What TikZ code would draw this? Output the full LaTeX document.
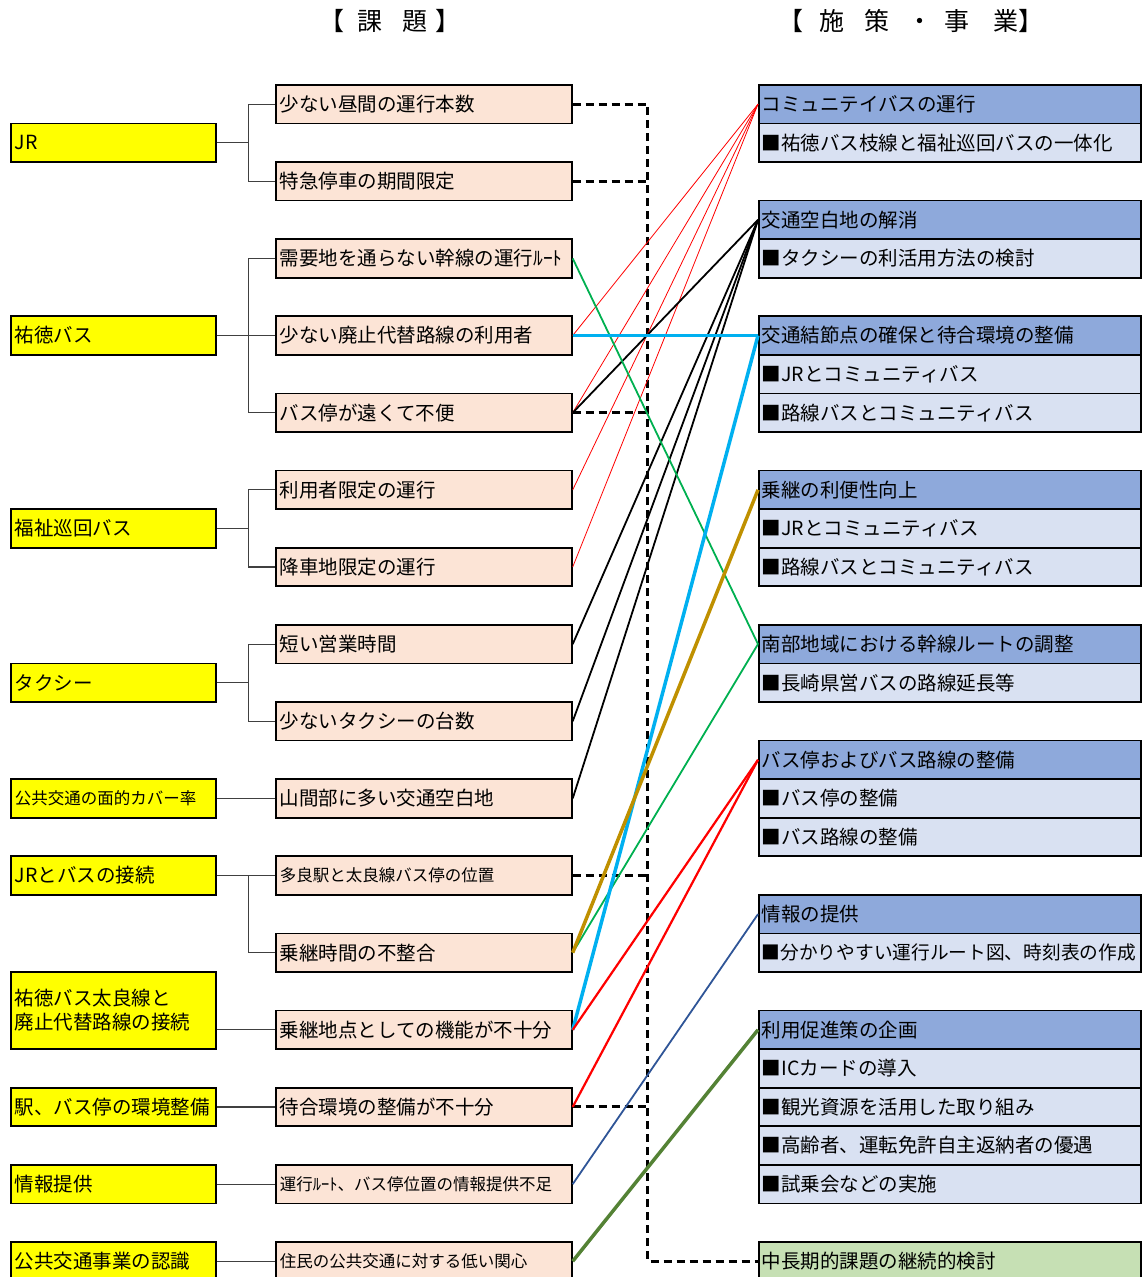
\documentclass[tikz,border=0pt]{standalone}
\usepackage{fontspec}
\newfontfamily\jp{Noto Sans CJK JP}
\definecolor{cyel}{RGB}{255,255,0}
\definecolor{cpeach}{RGB}{252,228,214}
\definecolor{chdr}{RGB}{142,169,219}
\definecolor{citem}{RGB}{217,225,242}
\definecolor{cgrn}{RGB}{198,224,180}
\definecolor{ccyan}{RGB}{0,176,240}
\definecolor{cgold}{RGB}{191,144,0}
\definecolor{cgreen}{RGB}{0,176,80}
\definecolor{cblue}{RGB}{47,85,151}
\definecolor{colive}{RGB}{84,130,53}
\begin{document}
\begin{tikzpicture}[x=1pt,y=-1pt,
  box/.style={draw=black,line width=1.7pt,inner xsep=4pt,inner ysep=0pt,minimum height=38.57pt,align=left,anchor=north west,font=\jp\fontsize{19.5}{24}\selectfont},
  ybox/.style={box,fill=cyel,text width=197pt},
  mbox/.style={box,fill=cpeach,text width=288pt},
  hbox/.style={box,fill=chdr,inner xsep=3pt,text width=376pt},
  ibox/.style={box,fill=citem,inner xsep=3pt,text width=376pt},
  gbox/.style={box,fill=cgrn,inner xsep=3pt,text width=376pt},
  small/.style={font=\jp\fontsize{16.5}{20}\selectfont},
  br/.style={draw=black!75,line width=1.2pt},
  dsh/.style={draw=black,line width=2.9pt,dash pattern=on 8pt off 5pt},
  lred/.style={draw=red,line width=0.8pt},
  lblack/.style={draw=black,line width=1.8pt},
  lcyan/.style={draw=ccyan,line width=3.5pt},
  lgold/.style={draw=cgold,line width=3.5pt},
  lgreen/.style={draw=cgreen,line width=1.8pt},
  lred2/.style={draw=red,line width=2.2pt},
  lblue/.style={draw=cblue,line width=1.8pt},
  lolive/.style={draw=colive,line width=3.5pt},
  ttl/.style={font=\jp\fontsize{25}{28}\selectfont,inner sep=0pt}
]
\useasboundingbox (0,0) rectangle (1144,1277);

% titles
\node[ttl] (t1) at (390,21) {【\hspace{13pt}課\hspace{20pt}題\hspace{8pt}】};
\node[ttl] (t2) at (911,21) {【\hspace{16pt}施\hspace{20pt}策\hspace{18pt}・\hspace{12pt}事\hspace{24pt}業】};

% left category boxes
\node[ybox] (y1) at (10,122.6) {JR};
\node[ybox] (y2) at (10,315.4) {祐徳バス};
\node[ybox] (y3) at (10,508.3) {福祉巡回バス};
\node[ybox] (y4) at (10,662.6) {タクシー};
\node[ybox,small] (y5) at (10,778.3) {公共交通の面的カバー率};
\node[ybox] (y6) at (10,855.4) {JRとバスの接続};
\node[ybox,minimum height=77.14pt] (y7) at (10,971.1) {祐徳バス太良線と\\廃止代替路線の接続};
\node[ybox] (y8) at (10,1086.8) {駅、バス停の環境整備};
\node[ybox] (y9) at (10,1164.0) {情報提供};
\node[ybox] (y10) at (10,1241.1) {公共交通事業の認識};

% issue boxes
\node[mbox] (m1) at (275,84) {少ない昼間の運行本数};
\node[mbox] (m2) at (275,161.1) {特急停車の期間限定};
\node[mbox] (m3) at (275,238.3) {需要地を通らない幹線の運行ﾙｰﾄ};
\node[mbox] (m4) at (275,315.4) {少ない廃止代替路線の利用者};
\node[mbox] (m5) at (275,392.6) {バス停が遠くて不便};
\node[mbox] (m6) at (275,469.7) {利用者限定の運行};
\node[mbox] (m7) at (275,546.8) {降車地限定の運行};
\node[mbox] (m8) at (275,624.0) {短い営業時間};
\node[mbox] (m9) at (275,701.1) {少ないタクシーの台数};
\node[mbox] (m10) at (275,778.3) {山間部に多い交通空白地};
\node[mbox,small] (m11) at (275,855.4) {多良駅と太良線バス停の位置};
\node[mbox] (m12) at (275,932.5) {乗継時間の不整合};
\node[mbox] (m13) at (275,1009.7) {乗継地点としての機能が不十分};
\node[mbox] (m14) at (275,1086.8) {待合環境の整備が不十分};
\node[mbox,small] (m15) at (275,1164.0) {運行ﾙｰﾄ、バス停位置の情報提供不足};
\node[mbox,small] (m16) at (275,1241.1) {住民の公共交通に対する低い関心};

% measure boxes
\node[hbox] (r1) at (758,84) {コミュニテイバスの運行};
\node[ibox] (r1a) at (758,122.6) {■祐徳バス枝線と福祉巡回バスの一体化};
\node[hbox] (r2) at (758,199.7) {交通空白地の解消};
\node[ibox] (r2a) at (758,238.3) {■タクシーの利活用方法の検討};
\node[hbox] (r3) at (758,315.4) {交通結節点の確保と待合環境の整備};
\node[ibox] (r3a) at (758,354.0) {■JRとコミュニティバス};
\node[ibox] (r3b) at (758,392.6) {■路線バスとコミュニティバス};
\node[hbox] (r4) at (758,469.7) {乗継の利便性向上};
\node[ibox] (r4a) at (758,508.3) {■JRとコミュニティバス};
\node[ibox] (r4b) at (758,546.8) {■路線バスとコミュニティバス};
\node[hbox] (r5) at (758,624.0) {南部地域における幹線ルートの調整};
\node[ibox] (r5a) at (758,662.6) {■長崎県営バスの路線延長等};
\node[hbox] (r6) at (758,739.7) {バス停およびバス路線の整備};
\node[ibox] (r6a) at (758,778.3) {■バス停の整備};
\node[ibox] (r6b) at (758,816.8) {■バス路線の整備};
\node[hbox] (r7) at (758,894.0) {情報の提供};
\node[ibox,font=\jp\fontsize{18.7}{22}\selectfont] (r7a) at (758,932.5) {■分かりやすい運行ルート図、時刻表の作成};
\node[hbox] (r8) at (758,1009.7) {利用促進策の企画};
\node[ibox] (r8a) at (758,1048.3) {■ICカードの導入};
\node[ibox] (r8b) at (758,1086.8) {■観光資源を活用した取り組み};
\node[ibox] (r8c) at (758,1125.4) {■高齢者、運転免許自主返納者の優遇};
\node[ibox] (r8d) at (758,1164.0) {■試乗会などの実施};
\node[gbox] (r9) at (758,1241.1) {中長期的課題の継続的検討};

% bracket connectors
\draw[br] (y1.east) -- ++(32,0) |- (m1.west);
\draw[br] (y1.east) -- ++(32,0) |- (m2.west);
\draw[br] (y2.east) -- (m4.west);
\draw[br] (y2.east) -- ++(32,0) |- (m3.west);
\draw[br] (y2.east) -- ++(32,0) |- (m5.west);
\draw[br] (y3.east) -- ++(32,0) |- (m6.west);
\draw[br] (y3.east) -- ++(32,0) |- (m7.west);
\draw[br] (y4.east) -- ++(32,0) |- (m8.west);
\draw[br] (y4.east) -- ++(32,0) |- (m9.west);
\draw[br] (y5.east) -- (m10.west);
\draw[br] (y6.east) -- (m11.west);
\draw[br] (y6.east) -- ++(32,0) |- (m12.west);
\draw[br] (y7.east |- m13.west) -- (m13.west);
\draw[br] (y8.east) -- (m14.west);
\draw[br] (y9.east) -- (m15.west);
\draw[br] (y10.east) -- (m16.west);

% dashed connectors
\coordinate (dv) at (647.5,0);
\draw[dsh] (m1.east) -- (m1.east -| dv) -- (dv |- r9.west) -- (r9.west);
\draw[dsh] (m2.east) -- (m2.east -| dv);
\draw[dsh] (m5.east) -- (m5.east -| dv);
\draw[dsh] (m11.east) -- (m11.east -| dv);
\draw[dsh] (m14.east) -- (m14.east -| dv);

% colored connectors
\draw[lred] (m4.east) -- (r1.west);
\draw[lred] (m5.east) -- (r1.west);
\draw[lred] (m6.east) -- (r1.west);
\draw[lred] (m7.east) -- (r1.west);
\draw[lblack] (m5.east) -- (r2.west);
\draw[lblack] (m8.east) -- (r2.west);
\draw[lblack] (m9.east) -- (r2.west);
\draw[lblack] (m10.east) -- (r2.west);
\draw[lgreen] (m3.east) -- (r5.west);
\draw[lgreen] (m12.east) -- (r5.west);
\draw[lcyan] (m4.east) -- (r3.west);
\draw[lcyan] (m13.east) -- (r3.west);
\draw[lgold] (m12.east) -- (r4.west);
\draw[lred2] (m13.east) -- (r6.west);
\draw[lred2] (m14.east) -- (r6.west);
\draw[lblue] (m15.east) -- (r7.west);
\draw[lolive] (m16.east) -- (r8.west);
\end{tikzpicture}
\end{document}
